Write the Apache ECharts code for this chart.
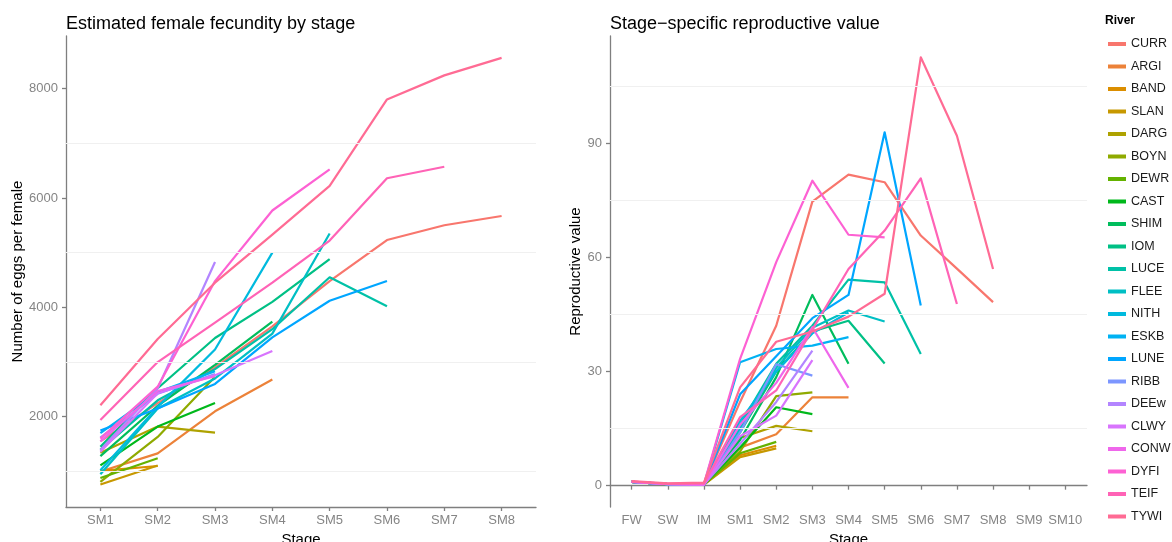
<!DOCTYPE html>
<html>
<head>
<meta charset="utf-8">
<script src="https://cdn.jsdelivr.net/npm/echarts@6/dist/echarts.min.js"></script>
<style>
  html, body { margin: 0; padding: 0; background: #ffffff; }
  #chart { width: 1172px; height: 542px; }
</style>
</head>
<body>
<div id="chart"></div>
<script>
// ---- categories and ticks ----
const rivers = ['CURR','ARGI','BAND','SLAN','DARG','BOYN','DEWR','CAST','SHIM','IOM','LUCE',
                'FLEE','NITH','ESKB','LUNE','RIBB','DEEw','CLWY','CONW','DYFI','TEIF','TYWI'];
const fecStages = ['SM1','SM2','SM3','SM4','SM5','SM6','SM7','SM8'];
const rvStages = ['FW','SW','IM','SM1','SM2','SM3','SM4','SM5','SM6','SM7','SM8','SM9','SM10'];
const fecTicks = [2000, 4000, 6000, 8000];
const fecMinor = [1000, 3000, 5000, 7000];
const rvTicks = [0, 30, 60, 90];
const rvMinor = [15, 45, 75, 105];

// ---- estimated fecundity (eggs per female), from SM1 onward ----
const fecCURR = [1550, 2250, 2900, 3650, 4480, 5230, 5500, 5670];
const fecARGI = [1000, 1330, 2100, 2680];
const fecBAND = [1010, 1100];
const fecSLAN = [760, 1110];
const fecDARG = [1340, 1820, 1710];
const fecBOYN = [810, 1630, 2730];
const fecDEWR = [880, 1240];
const fecCAST = [1110, 1820, 2250];
const fecSHIM = [1280, 2200, 2950, 3740];
const fecIOM  = [1450, 2520, 3440, 4100, 4880];
const fecLUCE = [1400, 2300, 2870, 3600, 4550, 4020];
const fecFLEE = [950, 2150, 2700, 3520, 5350];
const fecNITH = [1020, 2180, 3230, 5000];
const fecESKB = [1700, 2450, 2830];
const fecLUNE = [1750, 2150, 2600, 3450, 4120, 4480];
const fecRIBB = [1620, 2420, 2780];
const fecDEEw = [1390, 2520, 4830];
const fecCLWY = [1360, 2430, 2760, 3200];
const fecCONW = [1550, 2470, 2740];
const fecDYFI = [1600, 2550, 4480, 5770, 6520];
const fecTEIF = [1940, 3000, 3720, 4450, 5220, 6360, 6570];
const fecTYWI = [2210, 3420, 4450, 5330, 6220, 7800, 8240, 8560];

// ---- stage-specific reproductive value, from FW onward ----
const rvCURR = [1.0, 0.4, 0.4, 22, 42, 74.6, 81.7, 79.7, 65.7, 57, 48.2];
const rvARGI = [1.0, 0.4, 0.3, 10, 13.5, 23.2, 23.2];
const rvBAND = [1.0, 0.4, 0.3, 8, 10.5];
const rvSLAN = [1.0, 0.4, 0.3, 7.5, 9.8];
const rvDARG = [1.0, 0.4, 0.3, 12.5, 15.7, 14.3];
const rvBOYN = [1.0, 0.4, 0.3, 9, 23.5, 24.5];
const rvDEWR = [1.0, 0.4, 0.3, 8.5, 11.5];
const rvCAST = [1.0, 0.4, 0.3, 10, 20.6, 18.8];
const rvSHIM = [1.0, 0.4, 0.3, 12, 28.5, 50.1, 32.0];
const rvIOM  = [1.0, 0.4, 0.3, 14, 30, 40.5, 43.3, 32.1];
const rvLUCE = [1.0, 0.4, 0.3, 16, 32, 42, 54.1, 53.4, 34.6];
const rvFLEE = [1.0, 0.4, 0.3, 15, 31, 41.5, 46.0, 43.1];
const rvNITH = [1.0, 0.4, 0.3, 17, 30, 40, 45.5];
const rvESKB = [1.0, 0.4, 0.3, 32.4, 35.9, 36.8, 39.0];
const rvLUNE = [1.0, 0.4, 0.3, 24, 34, 44, 50.1, 92.8, 47.3];
const rvRIBB = [1.0, 0.4, 0.3, 14, 31.9, 28.9];
const rvDEEw = [1.0, 0.4, 0.3, 11, 22, 35.5];
const rvCLWY = [1.0, 0.4, 0.3, 13, 18.4, 33];
const rvCONW = [1.0, 0.4, 0.3, 16, 27, 41.6, 25.7];
const rvDYFI = [1.1, 0.5, 0.5, 33.3, 58.7, 80.1, 65.9, 65.2];
const rvTEIF = [1.1, 0.5, 0.6, 18, 25, 41, 56.9, 67, 80.7, 47.7];
const rvTYWI = [1.2, 0.6, 0.8, 25.8, 37.8, 40.5, 44.4, 50.4, 112.5, 91.9, 56.9];

const fecData = [fecCURR, fecARGI, fecBAND, fecSLAN, fecDARG, fecBOYN, fecDEWR, fecCAST, fecSHIM,
  fecIOM, fecLUCE, fecFLEE, fecNITH, fecESKB, fecLUNE, fecRIBB, fecDEEw, fecCLWY, fecCONW,
  fecDYFI, fecTEIF, fecTYWI];
const rvData = [rvCURR, rvARGI, rvBAND, rvSLAN, rvDARG, rvBOYN, rvDEWR, rvCAST, rvSHIM,
  rvIOM, rvLUCE, rvFLEE, rvNITH, rvESKB, rvLUNE, rvRIBB, rvDEEw, rvCLWY, rvCONW,
  rvDYFI, rvTEIF, rvTYWI];

// ---- evenly spaced hues in polar CIE-Luv (c = 100, l = 65) ----
function hclHex(h, c, l) {
  const hr = h * Math.PI / 180;
  const U = c * Math.cos(hr), V = c * Math.sin(hr);
  const Xn = 95.047, Yn = 100, Zn = 108.883;
  const Y = l > 8 ? Yn * Math.pow((l + 16) / 116, 3) : Yn * l / 903.3;
  const den = Xn + 15 * Yn + 3 * Zn;
  const un = 4 * Xn / den, vn = 9 * Yn / den;
  const u = U / (13 * l) + un, v = V / (13 * l) + vn;
  const X = 9 * Y * u / (4 * v);
  const Z = Y * (12 - 3 * u - 20 * v) / (4 * v);
  const x = X / 100, y = Y / 100, z = Z / 100;
  const lin = [
    3.240479 * x - 1.537150 * y - 0.498535 * z,
   -0.969256 * x + 1.875992 * y + 0.041556 * z,
    0.055648 * x - 0.204043 * y + 1.057311 * z
  ];
  return '#' + lin.map(t => {
    let g = t <= 0.0031308 ? 12.92 * t : 1.055 * Math.pow(t, 1 / 2.4) - 0.055;
    g = Math.min(1, Math.max(0, g));
    return Math.round(g * 255).toString(16).padStart(2, '0');
  }).join('');
}
const palette = rivers.map((_, i) => hclHex(15 + i * 360 / rivers.length, 100, 65));

const FONT = 'Liberation Sans, Arial, sans-serif';
const AXIS_GREY = '#7f7f7f';
const LABEL_GREY = '#858585';
const GRID_MINOR = '#f0f0f0';

function xAxisFor(gridIndex, stages) {
  const pos = stages.map((_, i) => i + 1);
  return {
    type: 'value', gridIndex,
    min: 0.4, max: stages.length + 0.6,
    name: 'Stage', nameLocation: 'middle', nameGap: 23,
    nameTextStyle: { color: '#000', fontSize: 15, fontFamily: FONT },
    axisLine: { show: true, lineStyle: { color: AXIS_GREY, width: 1.3 } },
    axisTick: { show: true, length: 4, customValues: pos, lineStyle: { color: AXIS_GREY, width: 1.3 } },
    axisLabel: { customValues: pos, formatter: v => stages[Math.round(v) - 1] || '',
                 color: LABEL_GREY, fontSize: 13, fontFamily: FONT, margin: 7 },
    splitLine: { show: false }
  };
}
function yAxisFor(gridIndex, min, max, ticks, name, gap) {
  return {
    type: 'value', gridIndex, min, max,
    name, nameLocation: 'middle', nameGap: gap,
    nameTextStyle: { color: '#000', fontSize: 15, fontFamily: FONT },
    axisLine: { show: true, lineStyle: { color: AXIS_GREY, width: 1.3 } },
    axisTick: { show: true, length: 4, customValues: ticks, lineStyle: { color: AXIS_GREY, width: 1.3 } },
    axisLabel: { customValues: ticks, formatter: v => String(Math.round(v)),
                 color: LABEL_GREY, fontSize: 13, fontFamily: FONT, margin: 8 },
    splitLine: { show: false }
  };
}
function gridLines(axisIdx, values) {
  return {
    type: 'line', name: '', xAxisIndex: axisIdx, yAxisIndex: axisIdx, data: [], z: 1,
    silent: true, symbol: 'none',
    markLine: {
      silent: true, symbol: 'none', label: { show: false },
      lineStyle: { color: GRID_MINOR, width: 1, type: 'solid' },
      emphasis: { disabled: true },
      data: values.map(v => ({ yAxis: v }))
    }
  };
}

const series = [gridLines(0, fecMinor), gridLines(1, rvMinor)];
rivers.forEach((r, i) => {
  series.push({
    type: 'line', name: r, xAxisIndex: 0, yAxisIndex: 0, z: 2,
    data: fecData[i].map((v, k) => [k + 1, v]),
    symbol: 'none', silent: true,
    lineStyle: { width: 2.2, color: palette[i], cap: 'butt', join: 'round' },
    itemStyle: { color: palette[i] }
  });
});
rivers.forEach((r, i) => {
  series.push({
    type: 'line', name: r, xAxisIndex: 1, yAxisIndex: 1, z: 2,
    data: rvData[i].map((v, k) => [k + 1, v]),
    symbol: 'none', silent: true,
    lineStyle: { width: 2.2, color: palette[i], cap: 'butt', join: 'round' },
    itemStyle: { color: palette[i] }
  });
});

const option = {
  animation: false,
  backgroundColor: '#ffffff',
  textStyle: { fontFamily: FONT },
  title: [
    { text: 'Estimated female fecundity by stage', left: 66, top: 15, padding: 0,
      textStyle: { fontSize: 18, fontWeight: 'normal', color: '#000', fontFamily: FONT } },
    { text: 'Stage\u2212specific reproductive value', left: 610, top: 15, padding: 0,
      textStyle: { fontSize: 18, fontWeight: 'normal', color: '#000', fontFamily: FONT } },
    { text: 'River', left: 1105, top: 15, padding: 0,
      textStyle: { fontSize: 12, fontWeight: 'bold', color: '#000', fontFamily: FONT } }
  ],
  legend: {
    data: rivers, orient: 'vertical', left: 1108, top: 37, padding: 0,
    icon: 'rect', itemWidth: 18, itemHeight: 4, itemGap: 8.5,
    textStyle: { fontSize: 12.5, color: '#1a1a1a', fontFamily: FONT, lineHeight: 14 },
    selectedMode: false
  },
  grid: [
    { left: 66, right: 1172 - 536, top: 36, bottom: 542 - 507, containLabel: false, outerBoundsMode: 'none' },
    { left: 610, right: 1172 - 1087, top: 36, bottom: 542 - 507, containLabel: false, outerBoundsMode: 'none' }
  ],
  xAxis: [xAxisFor(0, fecStages), xAxisFor(1, rvStages)],
  yAxis: [
    yAxisFor(0, 350, 8960, fecTicks, 'Number of eggs per female', 40),
    yAxisFor(1, -5.6, 118.1, rvTicks, 'Reproductive value', 26)
  ],
  series
};

const chart = echarts.init(document.getElementById('chart'), null, { renderer: 'canvas' });
chart.setOption(option);
</script>
</body>
</html>
